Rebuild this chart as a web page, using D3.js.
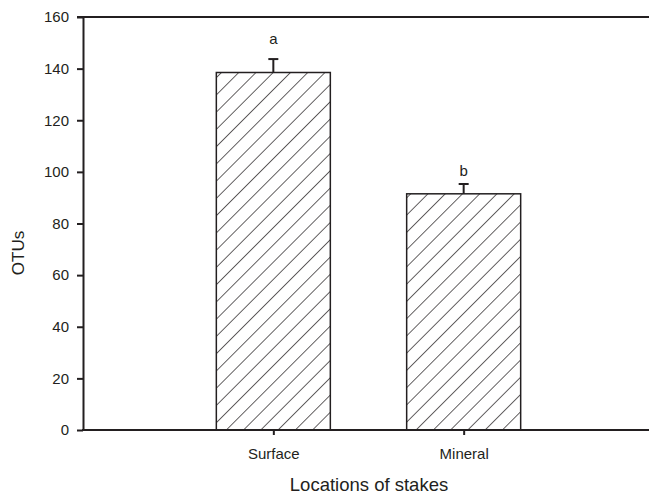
<!DOCTYPE html>
<html>
<head>
<meta charset="utf-8">
<script src="https://cdn.jsdelivr.net/npm/d3@7"></script>
<style>
  html, body { margin: 0; padding: 0; background: #fff; }
  svg { display: block; font-family: "Liberation Sans", Arial, sans-serif; }
</style>
</head>
<body>
<svg id="chart" width="649" height="496"></svg>
<script>
// OTU counts by stake location
const categories = ["Surface", "Mineral"];
const means = [138.5, 91.5];
const errors = [5.2, 3.8];
const letters = ["a", "b"];
const letterLevels = [149.7, 98.4];
const yTicks = [0, 20, 40, 60, 80, 100, 120, 140, 160];

const svg = d3.select("#chart");
const ink = "#231f20";
const font = "Liberation Sans, Arial, sans-serif";
const plot = { left: 83, top: 17, bottom: 430 };

// category slots: one empty slot on each side of the two bars
const xPos = d3.scaleLinear().domain([-0.5, 2.5]).range([plot.left, 654]);
const cx = i => xPos(i + 0.5);
const barW = 114;

const y = d3.scaleLinear().domain([0, 160]).range([plot.bottom, plot.top]);

// diagonal hatch fill
const defs = svg.append("defs");
const pat = defs.append("pattern")
  .attr("id", "hatch")
  .attr("patternUnits", "userSpaceOnUse")
  .attr("width", 12.2)
  .attr("height", 12.2)
  .attr("patternTransform", "rotate(45)");
pat.append("line")
  .attr("x1", 0).attr("y1", 0).attr("x2", 0).attr("y2", 12.2)
  .attr("stroke", ink).attr("stroke-width", 1.4);

// bars
svg.append("g").selectAll("rect")
  .data(means)
  .join("rect")
  .attr("x", (d, i) => cx(i) - barW / 2)
  .attr("y", d => y(d))
  .attr("width", barW)
  .attr("height", d => y(0) - y(d))
  .attr("fill", "url(#hatch)")
  .attr("stroke", ink)
  .attr("stroke-width", 1.5);

// error bars (upper only)
const eb = svg.append("g").attr("stroke", ink).attr("stroke-width", 2);
means.forEach((m, i) => {
  eb.append("line")
    .attr("x1", cx(i)).attr("x2", cx(i))
    .attr("y1", y(m)).attr("y2", y(m + errors[i]));
  eb.append("line")
    .attr("x1", cx(i) - 5).attr("x2", cx(i) + 5)
    .attr("y1", y(m + errors[i])).attr("y2", y(m + errors[i]));
});

// significance letters
svg.append("g").selectAll("text")
  .data(letters)
  .join("text")
  .attr("x", (d, i) => cx(i))
  .attr("y", (d, i) => y(letterLevels[i]))
  .attr("text-anchor", "middle")
  .attr("font-size", 15)
  .attr("font-family", font)
  .attr("fill", ink)
  .text(d => d);

// y axis
const yAxis = svg.append("g")
  .attr("transform", `translate(${plot.left},0)`)
  .call(d3.axisLeft(y).tickValues(yTicks).tickSize(6).tickSizeOuter(0).tickPadding(8));
yAxis.select(".domain").attr("stroke", ink).attr("stroke-width", 2);
yAxis.selectAll(".tick line").attr("stroke", ink).attr("stroke-width", 2);
yAxis.selectAll(".tick text").attr("font-size", 15).attr("fill", ink)
  .attr("font-family", font);

// x axis
const xAxisScale = d3.scalePoint().domain(categories).range([cx(0), cx(1)]);
const xAxis = svg.append("g")
  .attr("transform", `translate(0,${plot.bottom})`)
  .call(d3.axisBottom(xAxisScale).tickSize(5).tickSizeOuter(0).tickPadding(13));
xAxis.select(".domain").remove();
xAxis.selectAll(".tick line").attr("stroke", ink).attr("stroke-width", 2);
xAxis.selectAll(".tick text").attr("font-size", 15).attr("fill", ink)
  .attr("font-family", font);

// frame lines: bottom and top
svg.append("line")
  .attr("x1", plot.left - 1).attr("x2", 649)
  .attr("y1", plot.bottom).attr("y2", plot.bottom)
  .attr("stroke", ink).attr("stroke-width", 2);
svg.append("line")
  .attr("x1", plot.left - 6).attr("x2", 649)
  .attr("y1", plot.top).attr("y2", plot.top)
  .attr("stroke", ink).attr("stroke-width", 2);

// axis titles
svg.append("text")
  .attr("x", 369).attr("y", 491)
  .attr("text-anchor", "middle")
  .attr("font-size", 18.5)
  .attr("font-family", font)
  .attr("fill", ink)
  .text("Locations of stakes");

svg.append("text")
  .attr("transform", "translate(24,253) rotate(-90)")
  .attr("text-anchor", "middle")
  .attr("font-size", 17)
  .attr("font-family", font)
  .attr("fill", ink)
  .text("OTUs");
</script>
</body>
</html>
